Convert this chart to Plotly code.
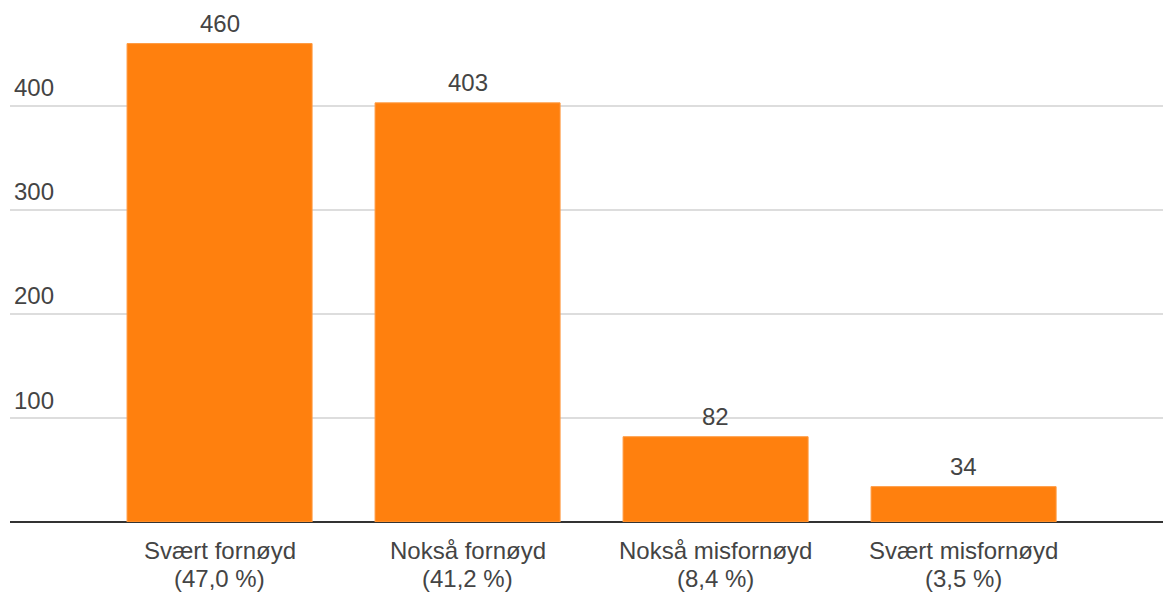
import plotly.graph_objects as go

categories = ["Svært fornøyd", "Nokså fornøyd", "Nokså misfornøyd", "Svært misfornøyd"]
percents = ["47,0 %", "41,2 %", "8,4 %", "3,5 %"]
values = [460, 403, 82, 34]
ytick_vals = [100, 200, 300, 400]

xs = list(range(len(categories)))
FONT = "Liberation Sans"
TXT = "#444444"
FS = 24

fig = go.Figure()
fig.add_trace(go.Bar(
    x=xs, y=values, width=0.746,
    marker=dict(color="#ff800e", line=dict(color="#ff9a40", width=1)),
    cliponaxis=False, hoverinfo="x+y",
))

annotations = []
for v in ytick_vals:
    annotations.append(dict(
        xref="paper", yref="y", x=0, y=v, xanchor="left", yanchor="middle",
        text=str(v), showarrow=False, yshift=18, xshift=2,
        font=dict(size=FS, color=TXT, family=FONT),
    ))
for x, v in zip(xs, values):
    annotations.append(dict(
        xref="x", yref="y", x=x, y=v, xanchor="center", yanchor="middle",
        text=str(v), showarrow=False, yshift=20,
        font=dict(size=FS, color=TXT, family=FONT),
    ))
for x, c, p in zip(xs, categories, percents):
    annotations.append(dict(
        xref="x", yref="paper", x=x, y=0, xanchor="center", yanchor="middle",
        text=c, showarrow=False, yshift=-28,
        font=dict(size=FS, color=TXT, family=FONT),
    ))
    annotations.append(dict(
        xref="x", yref="paper", x=x, y=0, xanchor="center", yanchor="middle",
        text=f"({p})", showarrow=False, yshift=-56,
        font=dict(size=FS, color=TXT, family=FONT),
    ))

fig.update_layout(
    width=1163, height=592,
    margin=dict(l=10, r=0, t=0, b=70),
    plot_bgcolor="white", paper_bgcolor="white",
    showlegend=False,
    annotations=annotations,
    font=dict(family=FONT, color=TXT, size=FS),
    xaxis=dict(
        range=[-0.845, 3.804], tickvals=xs, showticklabels=False,
        showgrid=False, zeroline=False, showline=False, ticks="",
    ),
    yaxis=dict(
        range=[0, 501.9], tickvals=ytick_vals, showticklabels=False,
        showgrid=True, gridcolor="#dddddd", gridwidth=1.5,
        zeroline=True, zerolinecolor="#333333", zerolinewidth=2,
        showline=False, ticks="",
    ),
)

fig.write_html("out.html")
